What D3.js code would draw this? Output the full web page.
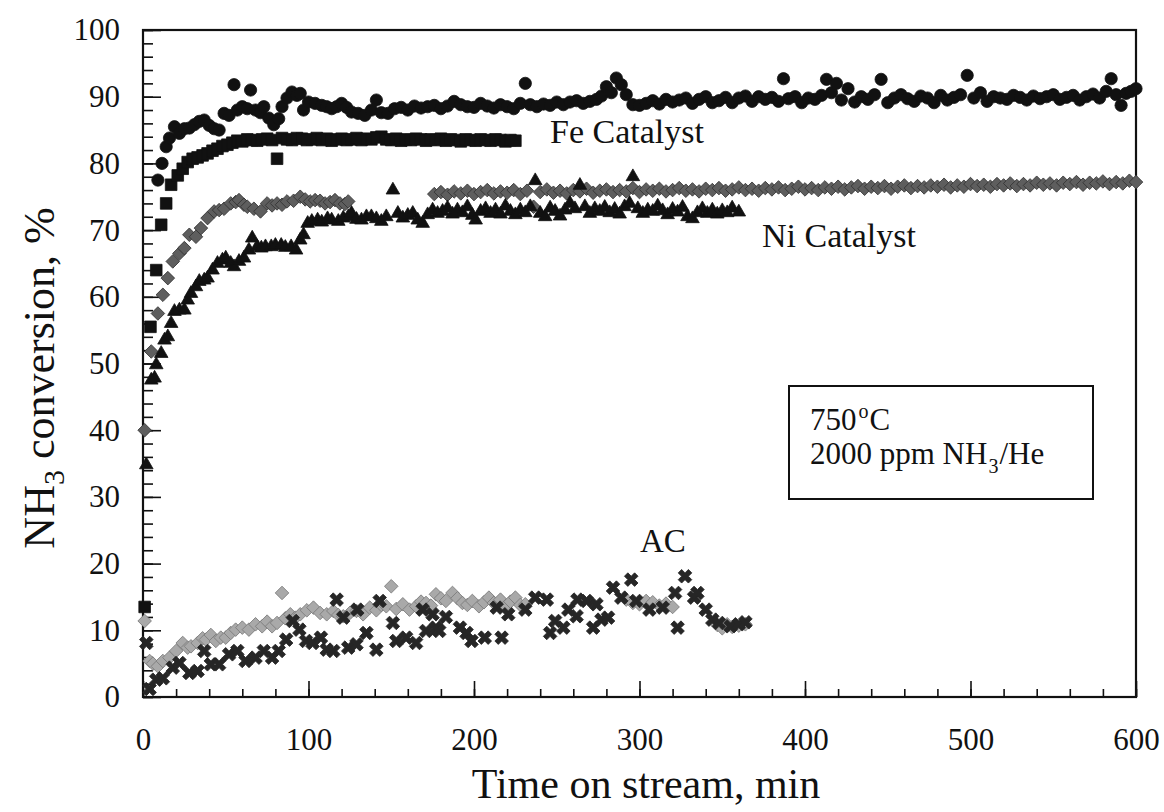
<!DOCTYPE html>
<html>
<head>
<meta charset="utf-8">
<script src="https://cdn.jsdelivr.net/npm/d3@7"></script>
<style>
  body { margin: 0; background: #fff; }
  text { fill: #111; }
</style>
</head>
<body>
<svg id="chart" width="1164" height="812"></svg>
<script>
// NH3 conversion vs time on stream, 750 C, 2000 ppm NH3/He

// Fe catalyst, circles
let feCircleT = [9, 11.5, 14, 16, 19, 22, 25, 28, 31, 34, 37, 40, 43, 46, 49, 52, 55, 57, 60, 63,
  65, 68, 71, 73, 76, 79, 82, 84, 87, 90, 93, 95, 97, 100, 104, 108, 111, 114, 117, 120,
  123, 126, 130, 134, 138, 141, 144, 148, 152, 156, 160, 164, 168, 172, 176, 180, 184, 188, 192, 196,
  200, 204, 208, 212, 216, 220, 224, 228, 231, 234, 238, 242, 246, 250, 254, 258, 262, 266, 270, 274,
  277, 280, 283, 286, 289, 292, 296, 300, 304, 308, 312, 316, 320, 324, 328, 332, 336, 340, 344, 348,
  352, 356, 360, 364, 368, 372, 376, 380, 384, 387, 390, 394, 398, 402, 406, 410, 413, 416, 419, 422,
  426, 430, 434, 438, 442, 446, 450, 454, 458, 462, 466, 470, 474, 478, 482, 486, 490, 494, 498, 502,
  506, 510, 514, 518, 522, 526, 530, 534, 538, 542, 546, 550, 554, 558, 562, 566, 570, 574, 578, 582,
  585, 588, 591, 594, 597, 600];
let feCircleV = [77.5, 80, 82.5, 83.8, 85.5, 84.5, 85.2, 85.3, 85.8, 86.3, 86.5, 85.7, 85.2, 85, 87.5, 87.2, 91.8, 88, 88.5, 88.2,
  91, 88, 87.6, 88.5, 86.8, 85.8, 86.7, 88.5, 89.8, 90.7, 90.2, 90.5, 88, 89.2, 89, 88.7, 88.5, 88.2, 88.5, 89,
  88.4, 87.7, 87.5, 87.2, 88, 89.5, 87.6, 87.5, 88.2, 88.4, 88, 88.6, 88.3, 88.5, 88.7, 88.2, 88.6, 89.3, 88.8, 88.5,
  88.4, 89, 88.6, 88.3, 88.8, 88.5, 88.2, 89, 92, 88.8, 88.5, 88.9, 88.7, 89.2, 88.8, 89.2, 89.4, 89, 89.3, 89.6,
  90.1, 91.5, 90.6, 92.8, 91.8, 90.3, 88.8, 88.7, 89, 89.4, 88.9, 89.6, 89.2, 89.5, 89.8, 89, 89.6, 90, 89.1, 89.4,
  89.9, 89.1, 89.8, 90.1, 89.3, 90, 89.6, 89.9, 89.3, 92.7, 89.7, 90, 89.1, 89.8, 89.6, 90.2, 92.6, 90.6, 92, 89.5,
  91.2, 89.2, 90, 89.6, 90.3, 92.6, 89.1, 89.8, 90.3, 89.7, 89.3, 90.1, 89.8, 89.1, 90.2, 89.5, 89.9, 90.3, 93.2, 89.8,
  90.6, 89.3, 90, 89.8, 89.6, 90.2, 89.9, 89.5, 90.1, 89.7, 90, 90.3, 89.6, 89.9, 90.2, 89.5, 90, 90.4, 89.8, 90.8,
  92.7, 90.3, 88.7, 90.5, 90.8, 91.2];

// Fe catalyst, squares
let feSquareT = [1, 4.5, 8, 11, 14, 17, 21, 24, 27, 30, 33, 36, 39, 42, 45, 48, 51, 54, 57, 60,
  63, 66, 69, 72, 75, 78, 81, 84, 87, 90, 93, 96, 99, 102, 105, 108, 111, 114, 117, 120,
  123, 126, 129, 132, 135, 138, 141, 144, 147, 150, 153, 156, 159, 162, 165, 168, 171, 174, 177, 180,
  183, 186, 189, 192, 195, 198, 201, 204, 207, 210, 213, 216, 219, 222, 225];
let feSquareV = [13.5, 55.5, 64, 70.8, 74, 76.8, 78.2, 79.2, 80.2, 80.7, 80.9, 81.2, 81.5, 81.9, 82.2, 82.6, 82.8, 83.1, 83.4, 83.3,
  83.6, 83.5, 83.4, 83.6, 83.7, 83.5, 80.7, 83.8, 83.6, 83.5, 83.8, 83.7, 83.5, 83.6, 83.8, 83.5, 83.7, 83.4, 83.6, 83.7,
  83.5, 83.6, 83.8, 83.5, 83.7, 83.6, 83.9, 84, 83.6, 83.5, 83.7, 83.4, 83.6, 83.5, 83.7, 83.6, 83.4, 83.6, 83.5, 83.7,
  83.4, 83.6, 83.5, 83.3, 83.6, 83.5, 83.4, 83.6, 83.5, 83.4, 83.6, 83.5, 83.3, 83.5, 83.4];

// Ni catalyst, diamonds
let niDiamondT = [1, 5, 9, 12, 15, 18, 22, 25, 28, 32, 35, 39, 43, 46, 49, 53, 56, 58, 61, 63,
  67, 71, 75, 78, 81, 84, 87, 91, 95, 98, 101, 104, 107, 110, 113, 116, 119, 122, 124,
  176, 180, 184, 188, 192, 196, 200, 204, 208, 212, 216, 220, 224, 228, 232, 236, 240, 244, 248, 252,
  256, 260, 264, 268, 272, 276, 280, 284, 288, 292, 296, 300, 304, 308, 312, 316, 320, 324, 328, 332,
  336, 340, 344, 348, 352, 356, 360, 364, 368, 372, 376, 380, 384, 388, 392, 396, 400, 404, 408, 412,
  416, 420, 424, 428, 432, 436, 440, 444, 448, 452, 456, 460, 464, 468, 472, 476, 480, 484, 488, 492,
  496, 500, 504, 508, 512, 516, 520, 524, 528, 532, 536, 540, 544, 548, 552, 556, 560, 564, 568, 572,
  576, 580, 584, 588, 592, 596, 600];
let niDiamondV = [40, 51.8, 57.5, 60.3, 62.8, 65.3, 66.5, 67.3, 69.3, 69, 70.3, 71.8, 72.8, 73, 73.2, 74, 74.2, 74.5, 73.8, 73.5,
  73.2, 72.8, 74, 73.7, 74, 73.8, 74.3, 74.4, 75, 74.6, 74.3, 74.5, 74.4, 74, 74.2, 74.5, 74, 73.9, 74.3,
  75.4, 75.7, 75.3, 75.8, 75.5, 75.9, 75.4, 75.7, 76, 75.5, 75.8, 75.6, 76, 75.4, 75.9, 73.5, 75.7, 76.1, 75.6, 75.9,
  75.5, 76, 75.8, 76.2, 75.6, 75.9, 76.1, 75.7, 76, 75.8, 76.3, 75.7, 76.1, 75.9, 76.2, 75.8, 76, 76.3, 75.9, 76.1,
  75.8, 76.2, 76, 76.3, 75.9, 76.1, 76.4, 76, 76.2, 75.9, 76.3, 76.1, 76.4, 76, 76.2, 76.5, 76.1, 76.3, 76, 76.4,
  76.2, 76.5, 76.1, 76.4, 76.6, 76.2, 76.5, 76.3, 76.6, 76.2, 76.5, 76.7, 76.3, 76.6, 76.4, 76.7, 76.5, 76.8, 76.4, 76.7,
  76.5, 76.9, 76.6, 76.8, 76.5, 76.9, 76.7, 77, 76.6, 76.9, 76.7, 77.1, 76.8, 77, 76.7, 77.1, 76.9, 77.2, 76.8, 77.1,
  77, 77.3, 76.9, 77.2, 77, 77.4, 77.2];

// Ni catalyst, triangles
let niTriangleT = [2, 5, 7, 8, 11, 13, 15, 17, 19, 22, 25, 27, 29, 32, 34, 37, 39, 42, 45, 48,
  50, 53, 55, 58, 61, 64, 66, 69, 71.5, 74, 77.5, 80, 83.5, 86, 89.5, 92.5, 95, 97, 99.5, 102,
  105.5, 108, 111.5, 114, 118, 121, 124, 126, 129, 132, 135, 138, 141, 144, 147, 151, 154, 157, 160, 163,
  166, 169, 172, 175, 178, 181, 184, 187, 190, 193, 196, 199, 201, 204, 207, 210, 213, 216, 219, 222,
  225, 228, 231, 234, 237, 240, 243, 246, 249, 252, 255, 258, 261, 264, 267, 270, 273, 276, 279, 282,
  285, 288, 291, 294, 296, 299, 302, 305, 308, 311, 314, 317, 320, 323, 326, 329, 332, 335, 338, 341,
  344, 347, 350, 353, 356, 360];
let niTriangleV = [34.8, 47.5, 47.8, 49.8, 51.5, 53.5, 54, 56, 57.8, 58, 58, 59.5, 60.5, 61.5, 62.3, 62.5, 62.8, 64, 65, 65.5,
  65.8, 65, 64.5, 65.3, 65.8, 67, 68.8, 67.5, 67.3, 67.5, 67.5, 67.7, 67.7, 67.4, 67.5, 67, 68.5, 69.3, 71, 71.3,
  71.5, 71.2, 71.7, 71.5, 71.3, 71.8, 72, 72.5, 71.6, 71.5, 72, 72, 71.7, 71.3, 72, 76, 72.5, 71.8, 72.2, 72.5,
  71.5, 71, 72.3, 73, 72.5, 72.8, 73.3, 72.4, 73, 72.6, 73.5, 72.2, 71.5, 72.8, 73.2, 72.5, 73, 72.4, 73.6, 72.8,
  72.3, 73, 72.6, 73.5, 77.4, 72.5, 72, 73.3, 72.8, 72.1, 73, 74, 73.2, 76.7, 73.5, 72.5, 73.2, 72.8, 73.4, 72.6,
  73.1, 72.4, 73.5, 74, 78, 73.2, 72.5, 73, 72.8, 73.6, 72.9, 72.3, 73.1, 72.7, 73.4, 72, 71.7, 72.6, 73.2, 72.5,
  73, 72.4, 72.9, 72.6, 73.3, 72.7];

// AC, light diamonds
let acDiamondT = [1, 4, 6, 9, 12, 16, 20, 24, 27, 29, 33, 36, 38, 41, 44, 47, 50, 53, 56, 60,
  64, 68, 72, 75, 78, 81, 84, 86, 89, 92, 95, 99, 103, 107, 111, 115, 118, 121, 125, 129,
  133, 137, 141, 144, 147, 150, 153, 157, 161, 165, 168, 171, 174, 177, 180, 183, 187, 190, 193, 196,
  199, 203, 206, 209, 212, 216, 219, 222, 225, 228, 231,
  292, 296, 300, 304, 308, 312, 316, 320, 347, 350, 353, 356, 360, 364];
let acDiamondV = [11.4, 5.4, 5, 4.6, 5.4, 5.9, 6.9, 8.1, 7.4, 7.6, 8.1, 8.8, 8.6, 9.3, 8.4, 8.9, 8.9, 9.6, 10.1, 10.4,
  10.1, 10.9, 10.6, 11.3, 10.6, 11.1, 15.6, 11.8, 12.4, 11.9, 12.4, 13, 13.4, 12.6, 12.4, 12.9, 12.3, 12.1, 12.6, 12.9,
  12.4, 13.4, 13, 13.8, 13.6, 16.6, 13.2, 13.9, 13.1, 13.6, 14.3, 14.1, 13.7, 15.4, 14.8, 14.4, 15.6, 14.8, 14.1, 13.8,
  14.4, 13.6, 14.2, 14.9, 14.1, 14.6, 13.6, 14.3, 14.9, 13.8, 13.9,
  14.6, 14.1, 13.9, 14.4, 14.2, 13.7, 14, 13.5, 10.8, 10.3, 10.9, 10.5, 10.7, 10.9];

// AC, crosses
let acCrossT = [2, 4, 8, 12, 18, 22, 28, 33, 37, 41, 46, 52, 57, 62, 68, 73, 78, 82, 86.5, 90.5,
  94.5, 98.5, 102.5, 107.5, 111, 115, 117, 121, 124, 129, 129.5, 135, 141, 143, 151, 153, 159, 165, 169, 171,
  175, 177, 179, 183, 191.5, 195.5, 198.5, 206.5, 213.7, 216.7, 220.7, 231, 237, 244, 246, 249, 254, 257, 262, 262.5,
  268, 272, 274, 277, 281, 284, 289, 295, 298, 306, 314, 321.5, 323, 327.5, 333, 335, 340, 344, 348, 355,
  360, 364];
let acCrossV = [8.1, 1.2, 2.6, 2.8, 4.4, 5.1, 3.6, 3.9, 6.9, 4.9, 4.9, 6.4, 6.9, 5.4, 5.9, 6.9, 5.9, 6.9, 8.6, 11.4,
  10.1, 8.4, 8.1, 8.9, 7.1, 6.9, 14.6, 11.9, 7.4, 7.9, 13.1, 9.6, 7.1, 14.4, 11.1, 8.4, 8.9, 8.1, 13.1, 9.9,
  12.4, 10.4, 9.9, 12, 10.4, 9.6, 8.4, 8.9, 13.4, 8.9, 12.4, 13.1, 14.9, 14.6, 9.6, 11.4, 10.4, 13.1, 12.1, 14.6,
  14.4, 10.4, 13.9, 11.6, 11.9, 16.4, 14.9, 17.6, 14.4, 13.1, 13.4, 15.6, 10.4, 18.1, 14.9, 15.6, 13.1, 11.6, 11.1, 10.6,
  10.9, 11.2];

let xTicks = [0, 100, 200, 300, 400, 500, 600];
let yTicks = [0, 10, 20, 30, 40, 50, 60, 70, 80, 90, 100];

function zip(ts, vs) {
  return ts.map((t, i) => ({ t: t, v: vs[i] }));
}

// first serif face that is really there (canvas width test)
function pickFont(list) {
  let ctx = document.createElement("canvas").getContext("2d");
  let sample = "Time on stream, min 0123456789";
  ctx.font = "40px monospace";
  let base = ctx.measureText(sample).width;
  for (let f of list) {
    ctx.font = "40px '" + f + "', monospace";
    if (ctx.measureText(sample).width !== base) return "'" + f + "'";
  }
  return "serif";
}
let serifFont = pickFont(["Liberation Serif", "Tinos", "Times New Roman", "Nimbus Roman", "DejaVu Serif", "Noto Serif"]);

let svg = d3.select("#chart");
let margin = { top: 30, right: 28, bottom: 115, left: 143 };
let width = 1164 - margin.left - margin.right,
    height = 812 - margin.top - margin.bottom;

let g = svg.append("g").attr("transform", "translate(" + margin.left + "," + margin.top + ")");

let x = d3.scaleLinear().domain([0, 600]).range([0, width]);
let y = d3.scaleLinear().domain([0, 100]).range([height, 0]);

// minor + major ticks, pointing inward
g.append("g")
    .attr("transform", "translate(0," + height + ")")
    .call(d3.axisBottom(x).tickValues(d3.range(0, 601, 20)).tickSize(-8).tickFormat(""))
    .call(a => a.select(".domain").remove());
g.append("g")
    .attr("class", "x axis")
    .attr("transform", "translate(0," + height + ")")
    .call(d3.axisBottom(x).tickValues(xTicks).tickSize(-16).tickPadding(31))
    .call(a => a.select(".domain").remove());

g.append("g")
    .call(d3.axisLeft(y).tickValues(d3.range(0, 101, 2)).tickSize(-10).tickFormat(""))
    .call(a => a.select(".domain").remove());
g.append("g")
    .attr("class", "y axis")
    .call(d3.axisLeft(y).tickValues(yTicks).tickSize(-18).tickPadding(23))
    .call(a => a.select(".domain").remove());

g.selectAll(".tick line").attr("stroke", "#111").attr("stroke-width", 1.6);
g.selectAll(".axis text")
    .attr("font-size", 31)
    .attr("fill", "#111");

g.append("rect")
    .attr("width", width)
    .attr("height", height)
    .attr("fill", "none")
    .attr("stroke", "#111")
    .attr("stroke-width", 2.2);

function drawSymbols(data, type, size, fill, stroke, rotate) {
    let sym = d3.symbol().type(type).size(size);
    g.append("g").selectAll("path")
        .data(data)
        .enter()
        .append("path")
        .attr("d", sym)
        .attr("transform", d => "translate(" + x(d.t) + "," + y(d.v) + ")" + (rotate ? " rotate(45)" : ""))
        .attr("fill", fill)
        .attr("stroke", stroke)
        .attr("stroke-width", 0.8);
}

drawSymbols(zip(acDiamondT, acDiamondV), d3.symbolSquare, 92, "#a9a9a9", "#7a7a7a", true);
drawSymbols(zip(acCrossT, acCrossV), d3.symbolCross, 115, "#262626", "#262626", true);
drawSymbols(zip(niDiamondT, niDiamondV), d3.symbolSquare, 92, "#5e5e5e", "#333", true);
drawSymbols(zip(niTriangleT, niTriangleV), d3.symbolTriangle, 80, "#111", "#111", false);
drawSymbols(zip(feSquareT, feSquareV), d3.symbolSquare, 135, "#111", "#111", false);
drawSymbols(zip(feCircleT, feCircleV), d3.symbolCircle, 118, "#111", "#111", false);

// labels
g.append("text").attr("x", 407).attr("y", 113).attr("font-size", 34).text("Fe Catalyst");
g.append("text").attr("x", 619).attr("y", 217).attr("font-size", 34).text("Ni Catalyst");
g.append("text").attr("x", 497).attr("y", 522).attr("font-size", 33).text("AC");

// condition box
g.append("rect")
    .attr("x", 646).attr("y", 356)
    .attr("width", 304).attr("height", 113)
    .attr("fill", "#fff")
    .attr("stroke", "#111")
    .attr("stroke-width", 2);
let t1 = g.append("text").attr("x", 667).attr("y", 400).attr("font-size", 31);
t1.append("tspan").text("750");
t1.append("tspan").attr("dx", 2).attr("dy", -12).attr("font-size", 20).text("o");
t1.append("tspan").attr("dx", 1).attr("dy", 12).text("C");
let t2 = g.append("text").attr("x", 667).attr("y", 434).attr("font-size", 31);
t2.append("tspan").text("2000 ppm NH");
t2.append("tspan").attr("dx", 1).attr("dy", 9).attr("font-size", 20).text("3");
t2.append("tspan").attr("dx", 1).attr("dy", -9).text("/He");

// axis titles
svg.append("text")
    .attr("x", 646).attr("y", 798)
    .attr("text-anchor", "middle")
    .attr("font-size", 42)
    .text("Time on stream, min");

let yt = svg.append("text")
    .attr("transform", "translate(54,378) rotate(-90)")
    .attr("text-anchor", "middle")
    .attr("font-size", 44);
yt.append("tspan").text("NH");
yt.append("tspan").attr("dy", 10).attr("font-size", 30).text("3");
yt.append("tspan").attr("dy", -10).text(" conversion, %");

svg.selectAll("text").style("font-family", serifFont);
</script>
</body>
</html>
